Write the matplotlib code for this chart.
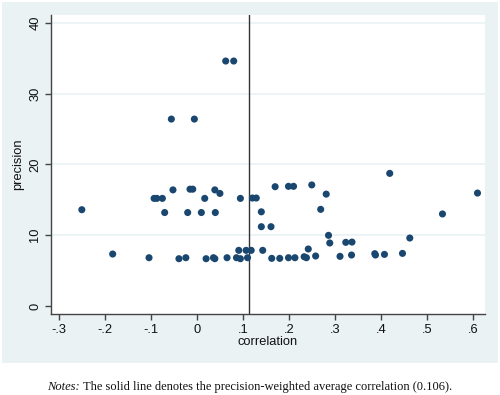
import matplotlib
matplotlib.use("Agg")
import matplotlib.pyplot as plt
from matplotlib.patches import Rectangle

correlation = [-0.251, -0.184, -0.105, -0.094, -0.088, -0.076, -0.071, -0.0565, -0.053,
               -0.040, -0.025, -0.021, -0.016, -0.010, -0.0065, 0.0087, 0.016, 0.019,
               0.035, 0.038, 0.038, 0.039, 0.049, 0.0616, 0.0645, 0.079, 0.085, 0.090,
               0.0935, 0.0935, 0.106, 0.109, 0.117, 0.1196, 0.128, 0.139, 0.139, 0.142,
               0.160, 0.1616, 0.169, 0.179, 0.198, 0.198, 0.209, 0.212, 0.232, 0.237,
               0.241, 0.2486, 0.257, 0.268, 0.280, 0.285, 0.2877, 0.310, 0.3225, 0.335,
               0.336, 0.3855, 0.387, 0.4065, 0.418, 0.4457, 0.4616, 0.5326, 0.6087]
precision = [13.6, 7.34, 6.82, 15.2, 15.2, 15.2, 13.2, 26.4, 16.4,
             6.68, 6.82, 13.2, 16.5, 16.5, 26.4, 13.2, 15.2, 6.68,
             6.82, 6.68, 16.4, 13.2, 15.9, 34.6, 6.82, 34.6, 6.82, 7.86,
             15.2, 6.68, 7.86, 6.82, 7.86, 15.25, 15.25, 13.3, 11.2, 7.86,
             11.2, 6.73, 16.85, 6.73, 16.9, 6.82, 16.9, 6.82, 6.96, 6.82,
             8.05, 17.1, 7.06, 13.65, 15.8, 9.98, 8.9, 7.01, 8.99, 7.2,
             9.03, 7.39, 7.2, 7.29, 18.73, 7.43, 9.6, 13.0, 15.95]
avg_line = 0.112
x_ticks = [-0.3, -0.2, -0.1, 0, 0.1, 0.2, 0.3, 0.4, 0.5, 0.6]
x_labels = ["-.3", "-.2", "-.1", "0", ".1", ".2", ".3", ".4", ".5", ".6"]
y_ticks = [0, 10, 20, 30, 40]
y_labels = ["0", "10", "20", "30", "40"]

W, H = 500, 395
fig = plt.figure(figsize=(W / 100, H / 100), dpi=100)
fig.patch.set_facecolor("white")
bg = Rectangle((2 / W, 1 - 363 / H), 496 / W, 361 / H,
               transform=fig.transFigure, facecolor="#eaf2f3",
               edgecolor="none", zorder=-10)
fig.patches.append(bg)

ax = fig.add_axes([51 / W, 1 - 314 / H, (485 - 51) / W, (314 - 15) / H])
ax.set_zorder(1)
ax.set_facecolor("white")
ax.set_xlim(-0.318, 0.625)
ax.set_ylim(-1.13, 41.1)

for y in y_ticks[1:]:
    ax.axhline(y, color="#eaf2f3", lw=1.2, zorder=1)

ax.axvline(avg_line, color="#333333", lw=1.0, zorder=2)
ax.scatter(correlation, precision, s=26, color="#1a476f", edgecolors="none", zorder=3)

ax.set_xticks(x_ticks)
ax.set_xticklabels(x_labels)
ax.set_yticks(y_ticks)
ax.set_yticklabels(y_labels, rotation=90, va="center")

font = "Liberation Sans"
fs = 9.3
for lab in ax.get_xticklabels() + ax.get_yticklabels():
    lab.set_fontfamily(font)
    lab.set_fontsize(fs)
    lab.set_color("#111111")

ax.tick_params(axis="both", direction="out", length=4, width=1, color="#444444", pad=3)
for s in ["top", "right"]:
    ax.spines[s].set_visible(False)
for s in ["left", "bottom"]:
    ax.spines[s].set_color("#444444")
    ax.spines[s].set_linewidth(1.0)

ax.set_xlabel("correlation", fontfamily=font, fontsize=fs, labelpad=0, color="#111111")
ax.set_ylabel("precision", fontfamily=font, fontsize=fs, labelpad=4, color="#111111")

t1 = fig.text(47 / W, 1 - 387 / H, "Notes:", fontfamily="Liberation Serif",
              fontstyle="italic", fontsize=9.0, ha="left", va="center", color="#111111")
fig.canvas.draw()
bb = t1.get_window_extent()
fig.text((bb.x1 + 3) / W, 1 - 387 / H,
         "The solid line denotes the precision-weighted average correlation (0.106).",
         fontfamily="Liberation Serif", fontsize=9.0, ha="left", va="center", color="#111111")

fig.savefig("out.png", dpi=100)
